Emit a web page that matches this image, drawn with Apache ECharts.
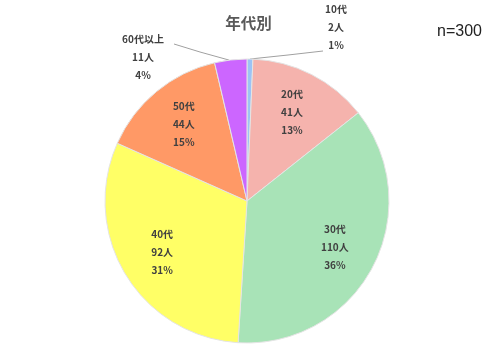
<!DOCTYPE html>
<html>
<head>
<meta charset="utf-8">
<script src="https://cdn.jsdelivr.net/npm/echarts@6/dist/echarts.min.js"></script>
<style>
  html, body { margin: 0; padding: 0; background: #fff; }
  #main { width: 497px; height: 353px; }
</style>
</head>
<body>
<div id="main"></div>
<script>
// 年代別の回答者数
var ageGroups = ['10代', '20代', '30代', '40代', '50代', '60代以上'];
var counts = [2, 41, 110, 92, 44, 11];
var percents = [1, 13, 36, 31, 15, 4];  // グラフ上の表示値
var sliceColors = ['#9cc3f5', '#f5b3ad', '#a8e3b7', '#ffff66', '#ff9966', '#cc66ff'];
var totalLabel = 'n=300';

var cx = 247, cy = 201, r = 142;

var pieData = [];
for (var i = 0; i < ageGroups.length; i++) {
    var outside = (i === 0 || i === 5);
    pieData.push({
        name: ageGroups[i],
        value: counts[i],
        itemStyle: { color: sliceColors[i] },
        label: { position: outside ? 'outside' : 'inside' },
        labelLine: { show: outside }
    });
}

// 円周上の点（上から時計回りの角度）
function edgePoint(deg) {
    var a = deg * Math.PI / 180;
    return [cx + r * Math.sin(a), cy - r * Math.cos(a)];
}

var chart = echarts.init(document.getElementById('main'));
chart.setOption({
    animation: false,
    title: [{
        text: '年代別',
        left: 'center',
        top: 10,
        textStyle: { fontSize: 15.5, fontWeight: 'bold', color: '#595959', fontFamily: 'Noto Sans CJK JP' }
    }, {
        text: totalLabel,
        left: 432,
        top: 19,
        textStyle: { fontSize: 16, fontWeight: 'normal', color: '#222', fontFamily: 'Liberation Sans' }
    }],
    series: [{
        type: 'pie',
        center: [cx, cy],
        radius: r,
        startAngle: 90,
        clockwise: true,
        avoidLabelOverlap: false,
        itemStyle: { borderColor: '#e4e4e4', borderWidth: 1 },
        label: {
            fontSize: 10,
            fontWeight: 'bold',
            color: '#404040',
            lineHeight: 18,
            align: 'center',
            fontFamily: 'Noto Sans CJK JP',
            formatter: function (p) {
                return p.name + '\n' + p.value + '人\n' + percents[p.dataIndex] + '%';
            }
        },
        labelLine: {
            length: 10,
            length2: 20,
            lineStyle: { color: '#a0a0a0', width: 1 }
        },
        labelLayout: function (p) {
            var rc = p.labelRect;
            var lx = rc.x + rc.width / 2, ly = rc.y + rc.height / 2;
            if (p.dataIndex === 0) {
                return {
                    x: 336, y: 27, align: 'center', verticalAlign: 'middle',
                    labelLinePoints: [edgePoint(1.2), [288, 55], [323, 51]]
                };
            }
            if (p.dataIndex === 5) {
                return {
                    x: 143, y: 57, align: 'center', verticalAlign: 'middle',
                    labelLinePoints: [edgePoint(352.8), [200, 52], [174, 44]]
                };
            }
            // 内側ラベルを外寄りに
            var k = 1.34;
            return { x: cx + (lx - cx) * k, y: cy + (ly - cy) * k, align: 'center', verticalAlign: 'middle' };
        },
        data: pieData
    }]
});
</script>
</body>
</html>
